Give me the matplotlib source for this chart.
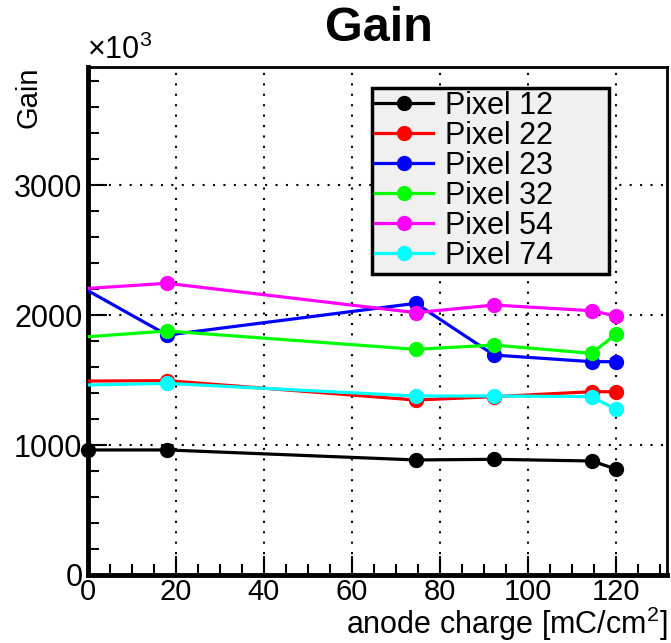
import numpy as np
import matplotlib.pyplot as plt
from matplotlib.ticker import MultipleLocator

plt.rcParams['font.family'] = ['Liberation Sans', 'DejaVu Sans']
plt.rcParams['mathtext.fontset'] = 'custom'
plt.rcParams['mathtext.rm'] = 'Liberation Sans'

charge = [0, 18, 74.5, 92.3, 114.5, 120]
pix12 = [962, 962, 885, 890, 877, 815]
pix22 = [1492, 1495, 1346, 1372, 1410, 1410]
pix23 = [2187, 1846, 2090, 1692, 1641, 1641]
pix32 = [1833, 1877, 1736, 1769, 1705, 1854]
pix54 = [2205, 2244, 2018, 2077, 2033, 1992]
pix74 = [1462, 1474, 1377, 1377, 1372, 1274]

names = ['Pixel 12', 'Pixel 22', 'Pixel 23', 'Pixel 32', 'Pixel 54', 'Pixel 74']
series = [pix12, pix22, pix23, pix32, pix54, pix74]
colors = ['black', '#ff0000', '#0000ff', '#00ff00', '#ff00ff', '#00ffff']

fig = plt.figure(figsize=(6.71, 6.43), dpi=100)
ax = fig.add_axes([88/671, 1-575/643, 579/671, 508/643])

for i in range(len(series)):
    # only the black one shows a marker at x=0
    me = None if i == 0 else slice(1, None)
    ax.plot(charge, series[i], '-o', color=colors[i], lw=2.3, ms=10,
            markevery=me, label=names[i], clip_on=(i != 0), zorder=3)

ax.axhline(0, color='#0000ff', lw=1.5, zorder=2)

ax.set_xlim(0, 131.6)
ax.set_ylim(0, 3908)
ax.xaxis.set_major_locator(MultipleLocator(20))
ax.xaxis.set_minor_locator(MultipleLocator(5))
ax.yaxis.set_major_locator(MultipleLocator(1000))
ax.yaxis.set_minor_locator(MultipleLocator(200))
ax.tick_params(which='both', direction='in', top=False, right=False)
ax.tick_params(axis='y', labelsize=22, pad=4)
ax.tick_params(axis='x', labelsize=21, pad=2)
ax.tick_params(which='major', length=14, width=1.5)
ax.tick_params(which='minor', length=8, width=1.5)
ax.grid(True, which='major', color='black', linestyle=(0, (1, 4)), lw=1.5)
ax.set_axisbelow(True)
for s in ax.spines.values():
    s.set_linewidth(2)
ax.spines['left'].set_linewidth(3.5)
ax.spines['bottom'].set_linewidth(3.5)

fig.text(379/671, 1-6/643, 'Gain', ha='center', va='top', fontsize=35, fontweight='bold')
fig.text(87/671, 1-66/643, '×10$^3$', ha='left', va='bottom', fontsize=22)
fig.text(14/671, 1-66/643, 'Gain', rotation=90, ha='left', va='top', fontsize=21)
fig.text(667/671, 0, 'anode charge [mC/cm$^2$]', ha='right', va='bottom', fontsize=22)

leg = ax.legend(loc='upper left', bbox_to_anchor=(372/671, 1-269/643, 237/671, 181/643),
                bbox_transform=fig.transFigure, mode='expand', fontsize=22, frameon=True,
                fancybox=False, edgecolor='black', facecolor='#f0f0f0',
                framealpha=1, handlelength=1.9, handletextpad=0.4,
                labelspacing=0.0, borderpad=0.1, borderaxespad=0)
leg.get_frame().set_linewidth(2.5)

plt.savefig('out.png', dpi=100)
